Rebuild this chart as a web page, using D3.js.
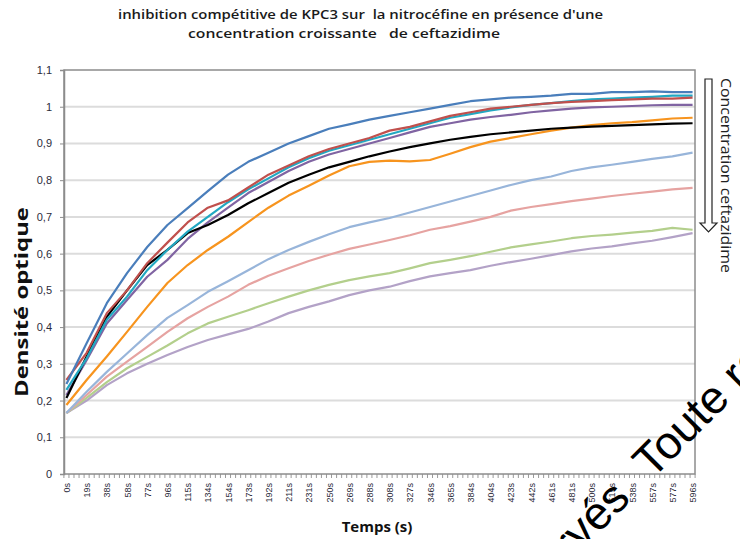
<!DOCTYPE html>
<html>
<head>
<meta charset="utf-8">
<script src="https://cdn.jsdelivr.net/npm/d3@7"></script>
<style>
  body { margin: 0; background: #fff; }
  svg { display: block; font-family: "Open Sans", "Liberation Sans", sans-serif; }
</style>
</head>
<body>
<div id="chart"></div>
<script>
// Data (one point per labelled category)
var tempsLabels = ["0s","19s","38s","58s","77s","96s","115s","134s","154s","173s","192s","211s","231s","250s",
  "269s","288s","308s","327s","346s","365s","384s","404s","423s","442s","461s","481s","500s","519s","538s","557s","577s","596s"];

var serieBleu = [0.245,0.356,0.465,0.547,0.618,0.678,0.724,0.77,0.815,0.85,0.875,0.90,0.92,0.94,0.952,0.965,
  0.975,0.985,0.995,1.005,1.015,1.02,1.025,1.027,1.03,1.035,1.035,1.04,1.04,1.042,1.04,1.04];
var serieRouge = [0.256,0.33,0.438,0.50,0.574,0.63,0.685,0.725,0.745,0.78,0.815,0.84,0.865,0.885,0.90,0.915,
  0.935,0.945,0.96,0.975,0.985,0.995,1.0,1.005,1.01,1.013,1.015,1.018,1.02,1.022,1.022,1.025];
var serieCyan = [0.229,0.315,0.42,0.483,0.555,0.61,0.66,0.70,0.74,0.775,0.805,0.835,0.86,0.88,0.895,0.91,
  0.925,0.94,0.955,0.97,0.98,0.99,0.998,1.005,1.01,1.015,1.02,1.022,1.025,1.027,1.03,1.03];
var serieViolet = [0.215,0.31,0.41,0.474,0.537,0.583,0.64,0.685,0.725,0.765,0.795,0.825,0.85,0.87,0.885,0.90,
  0.915,0.93,0.945,0.955,0.965,0.972,0.978,0.985,0.99,0.995,0.998,1.0,1.002,1.004,1.005,1.005];
var serieNoir = [0.207,0.32,0.428,0.50,0.569,0.61,0.656,0.678,0.705,0.737,0.765,0.793,0.815,0.835,0.85,0.865,
  0.878,0.89,0.90,0.91,0.918,0.925,0.93,0.935,0.94,0.943,0.946,0.948,0.95,0.952,0.954,0.955];
var serieOrange = [0.188,0.256,0.32,0.387,0.455,0.52,0.569,0.61,0.646,0.686,0.725,0.758,0.785,0.813,0.838,0.85,
  0.853,0.851,0.855,0.872,0.89,0.905,0.915,0.925,0.935,0.943,0.95,0.955,0.958,0.963,0.968,0.97];
var serieBleuClair = [0.166,0.224,0.278,0.328,0.378,0.425,0.46,0.496,0.525,0.555,0.585,0.61,0.632,0.653,0.672,0.685,
  0.697,0.712,0.727,0.742,0.757,0.772,0.787,0.80,0.81,0.825,0.835,0.842,0.85,0.858,0.865,0.875];
var serieRose = [0.166,0.215,0.265,0.306,0.346,0.387,0.424,0.455,0.483,0.515,0.54,0.56,0.58,0.597,0.613,0.625,
  0.637,0.65,0.665,0.675,0.687,0.70,0.717,0.727,0.735,0.743,0.75,0.757,0.763,0.769,0.775,0.779];
var serieVert = [0.166,0.207,0.25,0.288,0.319,0.35,0.383,0.41,0.428,0.446,0.465,0.483,0.50,0.515,0.528,0.538,
  0.547,0.56,0.574,0.583,0.593,0.605,0.617,0.625,0.633,0.642,0.648,0.652,0.657,0.662,0.67,0.665];
var serieLilas = [0.166,0.20,0.242,0.274,0.30,0.324,0.346,0.365,0.38,0.395,0.415,0.438,0.455,0.47,0.487,0.50,
  0.51,0.525,0.538,0.547,0.555,0.567,0.577,0.586,0.596,0.606,0.614,0.62,0.628,0.635,0.645,0.656];

var yTicks = [0,0.1,0.2,0.3,0.4,0.5,0.6,0.7,0.8,0.9,1,1.1];

// drawing order: light curves underneath
var series = [
  {values: serieLilas, color: "#b3a2c7"},
  {values: serieVert, color: "#b3cf8c"},
  {values: serieRose, color: "#e6a3a1"},
  {values: serieBleuClair, color: "#98b5da"},
  {values: serieOrange, color: "#f7941e"},
  {values: serieViolet, color: "#8064a2"},
  {values: serieNoir, color: "#000000"},
  {values: serieCyan, color: "#22a8c2"},
  {values: serieRouge, color: "#c0504d"},
  {values: serieBleu, color: "#4a7ebb"}
];

var margin = {top: 70, right: 45, bottom: 65, left: 64},
    width = 740 - margin.left - margin.right,
    height = 539 - margin.top - margin.bottom;

var locale = d3.formatLocale({decimal: ",", thousands: " ", grouping: [3], currency: ["", ""]});
var fmt = locale.format("~g");

var svg = d3.select("#chart").append("svg")
    .attr("width", 740)
    .attr("height", 539);

// titre
svg.append("text")
    .attr("x", 118).attr("y", 19)
    .attr("textLength", 485).attr("lengthAdjust", "spacingAndGlyphs")
    .style("font-size", "13px").style("font-weight", 600).style("fill", "#1a1a1a")
    .style("white-space", "pre")
    .text("inhibition compétitive de KPC3 sur  la nitrocéfine en présence d'une");
svg.append("text")
    .attr("x", 188).attr("y", 38)
    .attr("textLength", 312).attr("lengthAdjust", "spacingAndGlyphs")
    .style("font-size", "13px").style("font-weight", 600).style("fill", "#1a1a1a")
    .style("white-space", "pre")
    .text("concentration croissante   de ceftazidime");

var g = svg.append("g")
    .attr("transform", "translate(" + margin.left + "," + margin.top + ")");

var x = d3.scalePoint().domain(tempsLabels).range([0, width]).padding(0.12),
    y = d3.scaleLinear().domain([0, 1.1]).range([height, 0]);

// grid
g.selectAll(".grid")
    .data(yTicks.slice(1, -1))
  .enter().append("line")
    .attr("class", "grid")
    .attr("x1", 0).attr("x2", width)
    .attr("y1", function(d) { return y(d); })
    .attr("y2", function(d) { return y(d); })
    .style("stroke", "#dcdcdc").style("stroke-width", 2);

// minor category ticks along the bottom
var step = x.step() / 4;
var minor = d3.range(126).map(function(i) { return x(tempsLabels[0]) - step / 2 + i * step; });
g.selectAll(".minor")
    .data(minor)
  .enter().append("line")
    .attr("x1", function(d) { return d; }).attr("x2", function(d) { return d; })
    .attr("y1", height).attr("y2", height + 4)
    .style("stroke", "#9a9a9a").style("stroke-width", 1);

// plot frame
g.append("rect")
    .attr("width", width).attr("height", height)
    .style("fill", "none").style("stroke", "#8c8c8c").style("stroke-width", 1.5);

var yAxis = d3.axisLeft(y).tickValues(yTicks).tickFormat(fmt).tickSize(4).tickPadding(8);
g.append("g")
    .attr("class", "axis axis--y")
    .call(yAxis)
    .call(function(a) {
      a.select(".domain").style("stroke", "#8c8c8c").style("stroke-width", 1.5);
      a.selectAll(".tick line").style("stroke", "#8c8c8c");
      a.selectAll("text").style("font-size", "11px").style("fill", "#2b2b3a")
        .style("font-family", "'Liberation Sans', sans-serif");
    });

var xAxis = d3.axisBottom(x).tickSize(0);
g.append("g")
    .attr("class", "axis axis--x")
    .attr("transform", "translate(0," + height + ")")
    .call(xAxis)
    .call(function(a) {
      a.select(".domain").remove();
      a.selectAll("text")
        .attr("transform", "rotate(-90)")
        .attr("text-anchor", "end")
        .attr("x", -9).attr("y", 0).attr("dy", "0.35em")
        .style("font-size", "9px").style("fill", "#2b2b3a")
        .style("font-family", "'Liberation Sans', sans-serif");
    });

var line = d3.line()
    .x(function(d, i) { return x(tempsLabels[i]); })
    .y(function(d) { return y(d); });

g.selectAll(".serie")
    .data(series)
  .enter().append("path")
    .attr("class", "serie")
    .attr("d", function(d) { return line(d.values); })
    .style("fill", "none")
    .style("stroke", function(d) { return d.color; })
    .style("stroke-width", 2.2)
    .style("stroke-linejoin", "round");

// axis titles
svg.append("text")
    .attr("transform", "translate(28,302) rotate(-90)")
    .attr("text-anchor", "middle")
    .attr("textLength", 190).attr("lengthAdjust", "spacingAndGlyphs")
    .style("font-size", "17px").style("font-weight", "bold").style("fill", "#111")
    .text("Densité optique");
svg.append("text")
    .attr("x", 377).attr("y", 532)
    .attr("text-anchor", "middle")
    .style("font-size", "15px").style("font-weight", "bold").style("fill", "#111")
    .text("Temps (s)");

// hollow arrow + label on the right
svg.append("path")
    .attr("d", "M705,79 L712,79 L712,223 L717,223 L708.5,232 L700,223 L705,223 Z")
    .style("fill", "#fff").style("stroke", "#222").style("stroke-width", 1.2);
svg.append("text")
    .attr("transform", "translate(721,78) rotate(90)")
    .attr("textLength", 195).attr("lengthAdjust", "spacingAndGlyphs")
    .style("font-size", "14px").style("fill", "#222")
    .text("Concentration ceftazidime");

// watermark (runs off the picture, as in the original)
var wmStyle = function(t) {
  t.style("font-family", "'Liberation Sans', sans-serif").style("font-size", "46px").style("fill", "#000");
};
svg.append("text").attr("transform", "translate(632,500) rotate(-45)")
    .attr("text-anchor", "end").call(wmStyle).text("réservés");
svg.append("text").attr("transform", "translate(652,480) rotate(-45)")
    .call(wmStyle).text("Toute reproduction");
</script>
</body>
</html>
